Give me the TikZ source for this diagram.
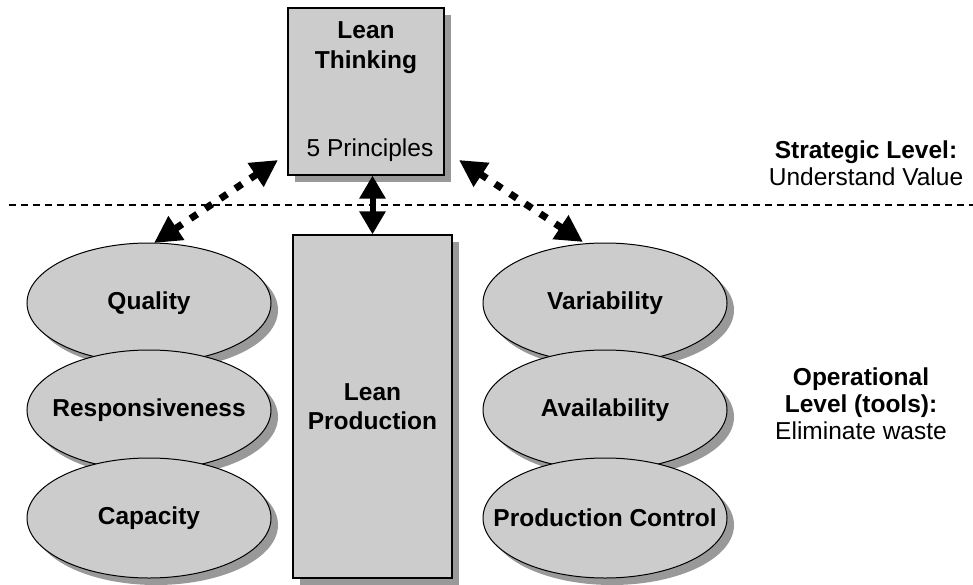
\documentclass[tikz,border=0pt]{standalone}
\usepackage{fontspec}
\setmainfont{Liberation Sans}
\usetikzlibrary{arrows.meta,shadows,shapes.geometric,calc}
\newcommand{\zerowide}[1]{\makebox[0pt]{#1}}
\begin{document}
\begin{tikzpicture}[x=1pt,y=-1pt,
  dshadow/.style={drop shadow={shadow xshift=7pt,shadow yshift=-7pt,fill=black!40,opacity=1,draw=none}},
  boxnode/.style={draw=black,line width=1.2pt,fill=black!20,dshadow,inner sep=0pt},
  ell/.style={ellipse,draw=black,line width=1pt,fill=black!20,dshadow,minimum width=244pt,minimum height=120pt,inner sep=0pt,font=\fontsize{24.5}{29}\selectfont\bfseries},
  txt/.style={font=\fontsize{24.5}{27}\selectfont,align=center},
  btxt/.style={font=\fontsize{24.5}{29}\selectfont\bfseries,align=center},
  dotarrow/.style={line width=7pt,dash pattern=on 8pt off 10pt,{Triangle[length=27pt,width=27pt]}-{Triangle[length=27pt,width=27pt]}},
  solidarrow/.style={line width=6pt,{Triangle[length=23pt,width=25pt]}-{Triangle[length=23pt,width=25pt]}},
  levelline/.style={line width=1.2pt,dash pattern=on 7pt off 5pt}
]
\useasboundingbox (0,0) rectangle (973,585);

% dashed separator
\coordinate (dl) at (9,205);
\coordinate (dr) at (973,205);
\draw[levelline] (dl) -- (dr);

% Lean Thinking box
\node[boxnode,minimum width=156pt,minimum height=167pt] (LT) at (366,91.5) {};
\node[btxt,font=\fontsize{24.5}{30}\selectfont\bfseries] (ltname) at (366,48) {Lean\\Thinking};
\node[txt] (ltprin) at (370,150) {5 Principles};

% Lean Production box
\node[boxnode,btxt,minimum width=159pt,minimum height=343pt] (LP) at (372.5,406.5) {Lean\\Production};

% left ellipses
\node[ell] (Q) at (149,303) {\zerowide{Quality}};
\node[ell] (R) at (149,410) {\zerowide{Responsiveness}};
\node[ell] (C) at (149,518) {\zerowide{Capacity}};

% right ellipses
\node[ell] (V) at (605,303) {\zerowide{Variability}};
\node[ell] (A) at (605,410) {\zerowide{Availability}};
\node[ell] (PC) at (605,518) {\zerowide{Production Control}};

% level texts
\node[txt] (strat) at (866,163) {\textbf{Strategic Level:}\\Understand Value};
\node[txt] (oper) at (861,404) {\textbf{Operational}\\\textbf{Level (tools):}\\Eliminate waste};

% arrows
\coordinate (la) at (278,160);
\coordinate (lb) at (154,243);
\coordinate (ra) at (459,160);
\coordinate (rb) at (583,242);
\draw[dotarrow] (la) -- (lb);
\draw[dotarrow] (ra) -- (rb);
\draw[solidarrow] (LP.north |- LT.south) -- (LP.north);
\end{tikzpicture}
\end{document}
